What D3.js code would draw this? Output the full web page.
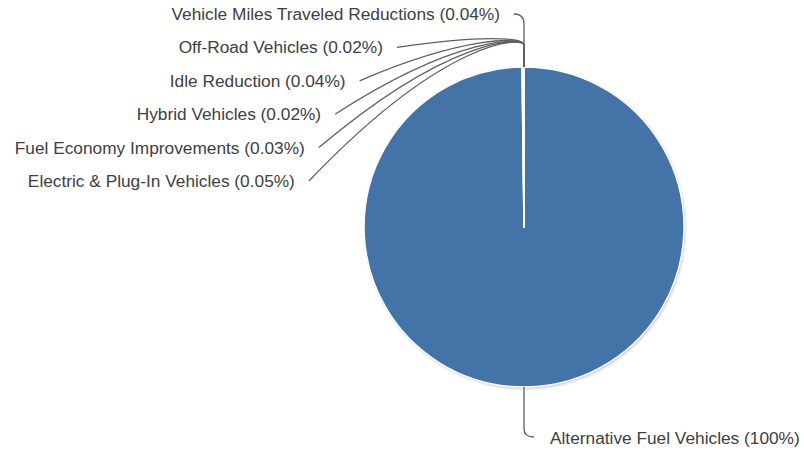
<!DOCTYPE html>
<html>
<head>
<meta charset="utf-8">
<script src="https://cdn.jsdelivr.net/npm/d3@7"></script>
<style>
  body { margin: 0; background: #fff; }
  svg text { font-family: "Liberation Sans", Arial, sans-serif; font-size: 17.3px; fill: #404040; }
</style>
</head>
<body>
<div id="chart"></div>
<script>
'use strict';

var categories = [
    'Alternative Fuel Vehicles',
    'Electric & Plug-In Vehicles',
    'Fuel Economy Improvements',
    'Hybrid Vehicles',
    'Idle Reduction',
    'Off-Road Vehicles',
    'Vehicle Miles Traveled Reductions'
];
var shares = [99.80, 0.05, 0.03, 0.02, 0.04, 0.02, 0.04];

var width = 804;
var height = 455;
var cx = 524;
var cy = 227;
var radius = 160;
var labelRadius = 220;

var svg = d3.select('#chart')
    .append('svg')
    .attr('width', width)
    .attr('height', height);

var defs = svg.append('defs');
var shadow = defs.append('filter')
    .attr('id', 'shadow')
    .attr('x', '-10%').attr('y', '-10%')
    .attr('width', '120%').attr('height', '120%');
shadow.append('feDropShadow')
    .attr('dx', 1).attr('dy', 1.5)
    .attr('stdDeviation', 1.5)
    .attr('flood-color', '#000')
    .attr('flood-opacity', 0.28);

var data = categories.map(function(c, i) {
    return { label: c, value: shares[i] };
});

var pie = d3.pie()
    .value(function(d) { return d.value; })
    .sort(null);

var arc = d3.arc()
    .innerRadius(0)
    .outerRadius(radius);

var g = svg.append('g')
    .attr('transform', 'translate(' + cx + ',' + cy + ')');

g.append('circle')
    .attr('r', radius)
    .attr('fill', '#4473a8')
    .attr('filter', 'url(#shadow)');

g.selectAll('path.slice')
    .data(pie(data))
    .enter()
    .append('path')
    .attr('class', 'slice')
    .attr('d', arc)
    .attr('fill', '#4473a8')
    .attr('stroke', '#fff')
    .attr('stroke-width', 1.5)
    .attr('stroke-linejoin', 'round');

function pct(v) {
    return v >= 1 ? d3.format('.0f')(v) : d3.format('.2f')(v);
}

// small slices: labels stacked on the left, top one first
var small = data.slice(1).reverse();
var lineColor = '#5f5f5f';
var elbowY = -182;
var stemY = -radius;

small.forEach(function(d, i) {
    var y = -213 + i * 33.4;
    var x;
    var path;
    if (i === 0) {
        x = -10;
        path = 'M' + x + ',' + y + ' Q0,' + y + ' 0,' + (y + 10) + ' L0,' + stemY;
    } else {
        x = -Math.sqrt(labelRadius * labelRadius - y * y);
        path = 'M' + x + ',' + y + ' C' + (x * 0.35) + ',' + (elbowY - 10) +
            ' 0,' + (elbowY - 8) + ' 0,' + elbowY + ' L0,' + stemY;
    }
    g.append('path')
        .attr('d', path)
        .attr('fill', 'none')
        .attr('stroke', lineColor)
        .attr('stroke-width', 1.3);
    g.append('text')
        .attr('x', x - 14)
        .attr('y', y)
        .attr('dy', '0.35em')
        .attr('text-anchor', 'end')
        .text(d.label + ' (' + pct(d.value) + '%)');
});

// the big slice, label below
var big = data[0];
var by = 210;
g.append('path')
    .attr('d', 'M0,' + radius + ' L0,' + (by - 8) + ' Q0,' + by + ' 10,' + by)
    .attr('fill', 'none')
    .attr('stroke', lineColor)
    .attr('stroke-width', 1.3);
g.append('text')
    .attr('x', 26)
    .attr('y', by + 1)
    .attr('dy', '0.35em')
    .attr('text-anchor', 'start')
    .text(big.label + ' (' + pct(big.value) + '%)');
</script>
</body>
</html>
